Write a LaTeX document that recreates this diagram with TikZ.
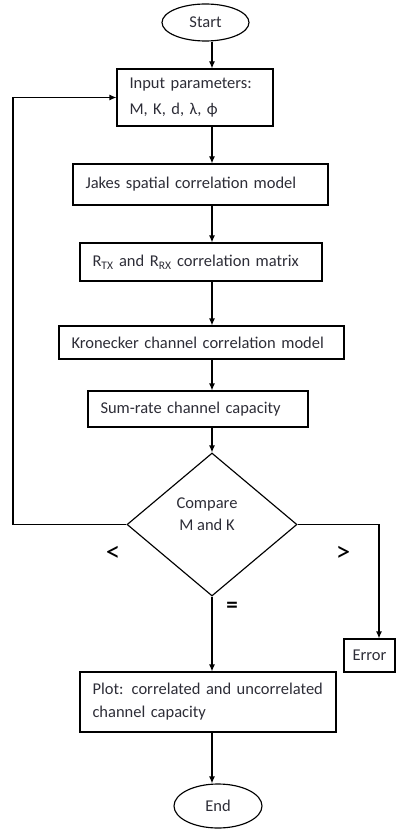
\documentclass[tikz,border=0pt]{standalone}
\usepackage{fontspec}
\setmainfont{Carlito}
\usetikzlibrary{shapes.geometric,arrows.meta}
\definecolor{txt}{RGB}{45,45,55}
\begin{document}
\begin{tikzpicture}[x=1pt,y=-1pt,
  every node/.style={font=\fontsize{16.5}{22}\selectfont, text=txt},
  line/.style={draw=black, line width=1.15pt},
  arr/.style={line, -{Latex[length=7pt,width=6pt]}},
  box/.style={line, rectangle, inner xsep=12pt, inner ysep=0pt, align=left},
  term/.style={line, ellipse, inner sep=0pt},
  decide/.style={line, diamond, inner sep=0pt},
  sign/.style={font=\fontsize{29}{30}\selectfont, text=black, inner sep=0pt}
]
\useasboundingbox (0,0) rectangle (402,829);

% process chain
\node[term, minimum width=87pt, minimum height=37pt] (start) at (205.5,22.5) {Start};
\node[box, minimum width=156pt, minimum height=57pt, text width=131pt,
      font=\fontsize{16.5}{26}\selectfont] (input) at (195,97.5)
      {Input parameters:\\M, K, d, λ, ϕ};
\node[box, minimum width=255pt, minimum height=41pt, text width=230pt] (jakes) at (200.5,184.5)
      {Jakes spatial correlation model};
\node[box, minimum width=242pt, minimum height=38pt, text width=217pt] (rmat) at (201,262)
      {R\textsubscript{TX} and R\textsubscript{RX} correlation matrix};
\node[box, minimum width=285pt, minimum height=33pt, text width=260pt] (kron) at (201.5,342.5)
      {Kronecker channel correlation model};
\node[box, minimum width=220pt, minimum height=36pt, text width=195pt] (sumrate) at (198,409)
      {Sum-rate channel capacity};
\node[decide, minimum width=170pt, minimum height=143pt] (cmp) at (212,524.5) {};
\node[align=center, inner sep=0pt, font=\fontsize{16.5}{22}\selectfont] (cmptext) at (207,514)
      {Compare\\M and K};
\node[box, minimum width=51pt, minimum height=33pt, inner xsep=0pt] (error) at (369.5,655.5) {Error};
\node[box, minimum width=256pt, minimum height=60pt, text width=231pt,
      font=\fontsize{16.5}{23}\selectfont] (plot) at (208,702)
      {Plot: correlated and uncorrelated\\channel capacity};
\node[term, minimum width=88pt, minimum height=44pt] (end) at (218,806) {End};

% branch labels
\node[sign] (lt) at (113,554) {<};
\node[sign] (gt) at (343,554) {>};
\node[sign, font=\fontsize{23}{24}\selectfont\bfseries] (eq) at (232,607) {=};

% helper columns for the connectors
\coordinate (axis) at (212,0);
\coordinate (loop) at (13,0);
\coordinate (errx) at (379,0);

% main flow
\draw[arr] (start.south -| axis) -- (input.north -| axis);
\draw[arr] (input.south -| axis) -- (jakes.north -| axis);
\draw[arr] (jakes.south -| axis) -- (rmat.north -| axis);
\draw[arr] (rmat.south -| axis) -- (kron.north -| axis);
\draw[arr] (kron.south -| axis) -- (sumrate.north -| axis);
\draw[arr] (sumrate.south -| axis) -- (cmp.north);
\draw[arr] (cmp.south) -- (plot.north -| axis);
\draw[arr] (plot.south -| axis) -- (end.north -| axis);

% branches
\draw[arr] (cmp.west) -| (loop |- input.west) -- (input.west);
\draw[arr] (cmp.east) -| (errx |- error.north);
\end{tikzpicture}
\end{document}
